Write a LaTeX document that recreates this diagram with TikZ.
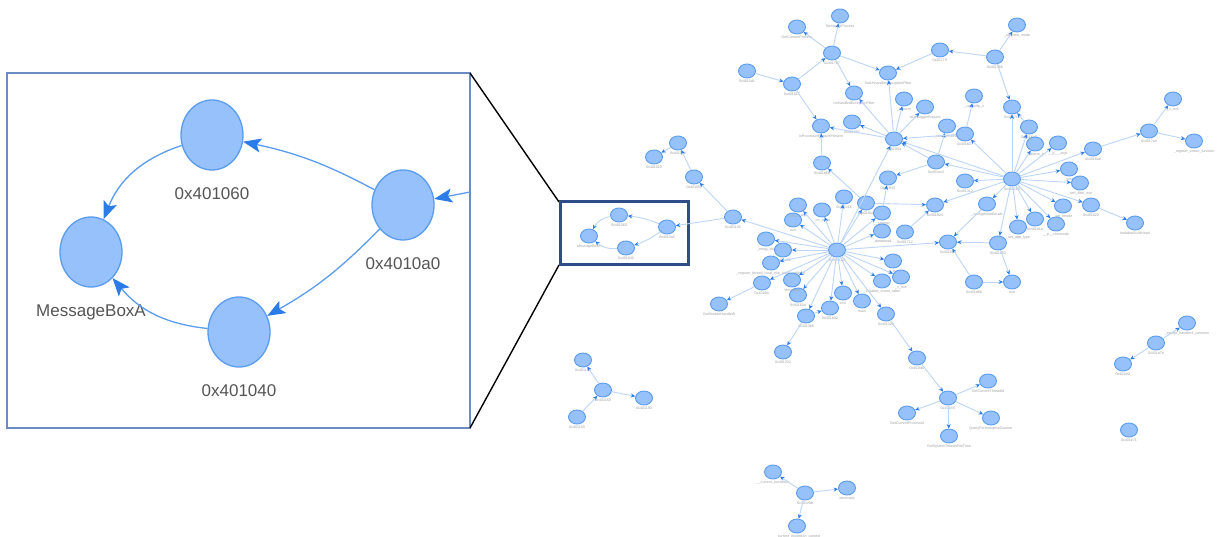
\documentclass[tikz,border=0pt]{standalone}
\usepackage{fontspec}
\setmainfont{Liberation Sans}
\usetikzlibrary{shapes.geometric,arrows.meta}
\definecolor{nfill}{HTML}{97C1FA}
\definecolor{nborder}{HTML}{5A9CF0}
\definecolor{bigedgec}{HTML}{5B9CEE}
\definecolor{arrowc}{HTML}{2B7CE9}
\definecolor{smedgec}{HTML}{BDD5F6}
\definecolor{insetframe}{HTML}{6A8CC0}
\definecolor{boxframe}{HTML}{2E4C8A}
\definecolor{lblgray}{HTML}{555555}
\definecolor{tinygray}{HTML}{A0A0A0}
\tikzset{
  bignode/.style={ellipse,minimum width=62pt,minimum height=70pt,inner sep=0pt,fill=nfill,draw=nborder,line width=1.3pt},
  biglbl/.style={font=\fontsize{17}{20}\selectfont,text=lblgray,inner sep=0pt,label distance=17pt},
  bigedge/.style={draw=bigedgec,line width=1.3pt,-{Stealth[length=18pt,width=14pt,inset=4pt,color=arrowc]}},
  smnode/.style={ellipse,minimum width=17pt,minimum height=14pt,inner sep=0pt,fill=nfill,draw=nborder,line width=0.9pt},
  tiny/.style={font=\fontsize{3.6}{4}\selectfont,text=tinygray,inner sep=0pt},
  smedge/.style={draw=smedgec,line width=0.9pt,-{Stealth[length=4.5pt,width=4pt,color=arrowc]}},
}
\newcommand{\gn}[4]{\node[smnode,label={[tiny,label distance=1.5pt]below:#4}] (#1) at (#2,#3) {};}
\begin{document}
\begin{tikzpicture}[x=1pt,y=-1pt]
\useasboundingbox (0,0) rectangle (1217,537);
\fill[white] (0,0) rectangle (1217,537);

% ---------------- inset -----------------
\draw[insetframe,line width=1.2pt] (7,73) rectangle (470,428);
\node[bignode,label={[biglbl]below:0x401060}] (i1060) at (212,135) {};
\node[bignode,label={[biglbl]below:MessageBoxA}] (imsg) at (91,252) {};
\node[bignode,label={[biglbl]below:0x4010a0}] (i10a0) at (403,205) {};
\node[bignode,label={[biglbl]below:0x401040}] (i1040) at (239,332) {};
\coordinate (iin) at (470,192);
\draw[bigedge] (i10a0) to[bend right=8] (i1060);
\draw[bigedge] (i1060) to[bend right=25] (imsg);
\draw[bigedge] (i10a0) to[bend left=8] (i1040);
\draw[bigedge] (i1040) to[bend left=22] (imsg);
\draw[bigedge] (iin) -- (i10a0);

% zoom lines
\coordinate (zt) at (470,73);
\coordinate (zb) at (470,428);
\coordinate (bt) at (559,202);
\coordinate (bb) at (559,265);
\draw[black,line width=1.4pt] (zt) -- (bt);
\draw[black,line width=1.4pt] (zb) -- (bb);
\draw[boxframe,line width=3pt] (560,202) rectangle (688,264);

% ---------------- big graph nodes -----------------
% box cluster
\gn{s1}{619}{215}{0x401060}
\gn{s2}{667}{227}{0x4010a0}
\gn{s3}{589}{236}{MessageBoxA}
\gn{s4}{626}{248}{0x401040}
\gn{a1}{678}{143}{0x4010d0}
\gn{a2}{654}{157}{0x401010}
\gn{a3}{694}{177}{0x4010f0}
\gn{a4}{733}{217}{0x401130}
% upper left
\gn{u1}{840}{16}{TerminateProcess}
\gn{u2}{797}{27}{GetCurrentProcess}
\gn{u3}{832}{53}{0x4017b7}
\gn{u4}{747}{71}{0x4015d1}
\gn{u5}{792}{84}{0x401617}
\gn{u6}{888}{73}{SetUnhandledExceptionFilter}
\gn{u7}{854}{93}{UnhandledExceptionFilter}
\gn{u8}{940}{50}{0x40177f}
\gn{u9}{821}{126}{IsProcessorFeaturePresent}
\gn{u10}{852}{122}{0x401387}
\gn{u11}{904}{99}{\_initterm}
\gn{u12}{925}{107}{IsDebuggerPresent}
\gn{u13}{822}{163}{0x401a66}
\gn{h1}{894}{139}{0x401f8a}
% top right
\gn{t1}{1017}{25}{\_set\_new\_mode}
\gn{t2}{995}{57}{0x401766}
\gn{t3}{974}{96}{\_controlfp\_s}
\gn{t4}{1012}{107}{0x4017c2}
\gn{t5}{1029}{127}{0x4016a0}
\gn{t6}{947}{126}{\_setusermatherr}
\gn{t7}{965}{134}{0x401b27}
\gn{t8}{1035}{144}{\_initterm\_e}
\gn{t9}{1058}{143}{\_\_p\_\_\_argv}
\gn{t10}{1093}{149}{0x4016ae}
\gn{t11}{1149}{131}{0x4017a4}
\gn{t12}{1173}{99}{\_c\_exit}
\gn{t13}{1194}{141}{\_register\_onexit\_function}
\gn{h2}{1012}{179}{0x401280}
\gn{r1}{936}{162}{0x401ac4}
\gn{r2}{888}{178}{0x401f15}
\gn{r3}{1069}{169}{\_cexit}
\gn{r4}{1080}{183}{\_seh\_filter\_exe}
\gn{r5}{965}{181}{0x401312}
\gn{r6}{935}{205}{0x401824}
\gn{r7}{987}{204}{\_configthreadlocale}
\gn{r8}{1063}{206}{\_set\_fmode}
\gn{r9}{1091}{205}{0x401820}
\gn{r10}{1135}{223}{InitializeSListHead}
\gn{r11}{1035}{219}{0x40181a}
\gn{r12}{1056}{224}{\_\_p\_\_commode}
\gn{r13}{1018}{227}{\_set\_app\_type}
\gn{r14}{998}{243}{0x401892}
\gn{r15}{948}{242}{0x4016e0}
\gn{r16}{974}{282}{0x401d6b}
\gn{r17}{1012}{282}{exit}
\gn{r18}{905}{232}{0x401712}
% hub3 cluster
\gn{h3}{837}{250}{0x401120}
\gn{c1}{766}{239}{\_amsg\_exit}
\gn{c2}{783}{250}{0x401a92}
\gn{c3}{771}{263}{\_register\_thread\_local\_exe\_atexit\_callback}
\gn{c4}{793}{220}{exit}
\gn{c5}{798}{205}{\_\_p\_\_\_argc}
\gn{c6}{822}{210}{\_crt\_atexit}
\gn{c7}{844}{197}{0x401c16}
\gn{c8}{866}{203}{0x4019a2}
\gn{c9}{882}{213}{\_\_setargv}
\gn{c10}{882}{231}{\_ismbblead}
\gn{c11}{893}{261}{\_c\_exit}
\gn{c12}{882}{281}{\_initialize\_onexit\_table}
\gn{c13}{901}{277}{\_c\_exit}
\gn{c14}{862}{301}{main}
\gn{c15}{843}{293}{exit}
\gn{c16}{830}{308}{0x401b02}
\gn{c17}{806}{316}{0x401466}
\gn{c18}{798}{295}{0x40163d}
\gn{c19}{792}{280}{terminate}
\gn{c20}{762}{283}{0x401fbc}
\gn{c21}{719}{304}{GetModuleHandleW}
\gn{c22}{783}{352}{0x401232}
\gn{c23}{886}{314}{0x401320}
\gn{c24}{917}{358}{0x401fd0}
% lower
\gn{l1}{948}{398}{0x401fc5}
\gn{l2}{988}{381}{GetCurrentThreadId}
\gn{l3}{907}{413}{GetCurrentProcessId}
\gn{l4}{991}{418}{QueryPerformanceCounter}
\gn{l5}{949}{436}{GetSystemTimeAsFileTime}
% small islands
\gn{p1}{583}{360}{0x401180}
\gn{p2}{603}{390}{0x401160}
\gn{p3}{644}{398}{0x401190}
\gn{p4}{577}{417}{0x401150}
\gn{q1}{773}{472}{\_\_current\_exception}
\gn{q2}{805}{493}{0x401c0b}
\gn{q3}{847}{488}{terminate}
\gn{q4}{797}{526}{\_\_current\_exception\_context}
\gn{w1}{1187}{323}{\_except\_handler4\_common}
\gn{w2}{1156}{343}{0x401d7e}
\gn{w3}{1123}{364}{0x401e0f}
\gn{w4}{1129}{430}{0x401e71}

% ---------------- big graph edges -----------------
\foreach \a/\b in {a3/a1,a1/a2,a4/a3,a4/s2,h3/a4,
  u3/u2,u3/u1,u3/u6,u3/u7,u5/u3,u4/u5,u5/u9,u8/u6,u13/u9,
  h1/u6,h1/u7,h1/u11,h1/u12,h1/u10,h1/u9,
  t2/t1,t2/u8,t2/t4,t5/t4,t7/t3,
  h2/t4,h2/t5,h2/t7,h2/t8,h2/t9,h2/t10,h2/r3,h2/r4,h2/r8,h2/r9,h2/r12,h2/r11,h2/r13,h2/r14,h2/r7,h2/r5,h2/r6,h2/r1,h2/h1,
  t10/t11,t11/t12,t11/t13,r9/r10,
  r1/h1,r1/r2,r1/t6,t7/h1,
  r7/r15,r14/r15,r14/r17,r16/r17,r16/r15,h3/r15,r18/r6,c8/r6,c8/u13,c9/r2,
  h3/h1,
  h3/c1,h3/c2,h3/c3,h3/c4,h3/c5,h3/c6,h3/c7,h3/c8,h3/c9,h3/c10,h3/c11,h3/c12,h3/c13,h3/c14,h3/c15,h3/c16,h3/c17,h3/c18,h3/c19,h3/c20,h3/c23,
  c23/c24,c24/l1,l1/l2,l1/l3,l1/l4,l1/l5,c17/c22,c17/c16,c20/c21,
  p2/p1,p2/p3,p4/p2,q2/q1,q2/q3,q2/q4,w2/w1,w2/w3}
  \draw[smedge] (\a) -- (\b);
\draw[smedge] (s2) to[bend right=8] (s1);
\draw[smedge] (s1) to[bend right=25] (s3);
\draw[smedge] (s2) to[bend left=8] (s4);
\draw[smedge] (s4) to[bend left=22] (s3);
\end{tikzpicture}
\end{document}
